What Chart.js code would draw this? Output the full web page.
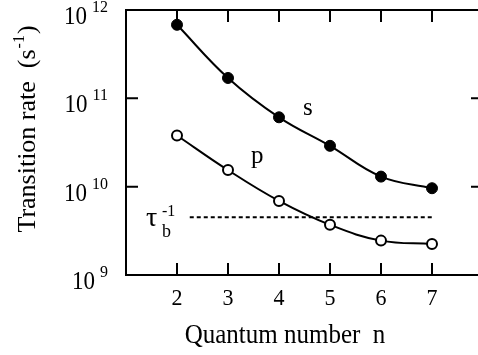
<!DOCTYPE html>
<html><head><meta charset="utf-8">
<script src="https://cdn.jsdelivr.net/npm/chart.js@4/dist/chart.umd.min.js"></script>
<style>
html,body{margin:0;padding:0;background:#fff;overflow:hidden;}
#wrap{width:478px;height:355px;overflow:hidden;position:relative;}
#c{display:block;}
</style></head><body>
<div id="wrap"><canvas id="c" width="490" height="355" style="width:490px;height:355px"></canvas></div>
<script>
const nValues = [2, 3, 4, 5, 6, 7];
const sRates = [6.8e11, 1.7e11, 6.1e10, 2.9e10, 1.3e10, 9.6e9];
const pRates = [3.8e10, 1.54e10, 6.9e9, 3.7e9, 2.45e9, 2.25e9];
const tauLineX = [2.25, 7];
const tauLineY = [4.5e9, 4.5e9];
const xTicks = [2, 3, 4, 5, 6, 7];
const yDecades = [9, 10, 11, 12];

const FONT = '"Liberation Serif", "Times New Roman", serif';
function txt(ctx, s, x, y, size, align, sy) {
  ctx.save();
  ctx.translate(x, y);
  ctx.scale(1, sy || 1);
  ctx.font = size + 'px ' + FONT;
  ctx.textAlign = align || 'left';
  ctx.textBaseline = 'alphabetic';
  ctx.fillStyle = '#000';
  ctx.fillText(s, 0, 0);
  ctx.restore();
}

const decor = {
  id: 'decor',
  afterDraw(chart) {
    const ctx = chart.ctx;
    const a = chart.chartArea;
    const xs = chart.scales.x, ys = chart.scales.y;
    ctx.save();
    ctx.strokeStyle = '#000';
    ctx.lineWidth = 2;
    ctx.beginPath();
    ctx.rect(a.left, a.top, a.right - a.left, a.bottom - a.top);
    ctx.stroke();
    const TL = 12;
    ctx.beginPath();
    xTicks.forEach(v => {
      const px = xs.getPixelForValue(v);
      ctx.moveTo(px, a.bottom); ctx.lineTo(px, a.bottom - TL);
      ctx.moveTo(px, a.top); ctx.lineTo(px, a.top + TL);
    });
    yDecades.forEach(e => {
      const py = ys.getPixelForValue(Math.pow(10, e));
      ctx.moveTo(a.left, py); ctx.lineTo(a.left + TL, py);
      ctx.moveTo(a.right, py); ctx.lineTo(a.right - TL, py);
    });
    ctx.stroke();
    ctx.restore();

    // y tick labels
    yDecades.forEach(e => {
      const py = ys.getPixelForValue(Math.pow(10, e));
      ctx.save();
      ctx.font = '16px ' + FONT;
      const ew = ctx.measureText(String(e)).width;
      ctx.restore();
      const expRight = 108;
      txt(ctx, String(e), expRight, py + 2, 16, 'right', 1.1);
      txt(ctx, '10', expRight - ew - 5, py + 14, 23, 'right', 1.12);
    });
    // x tick labels
    xTicks.forEach(v => {
      const px = xs.getPixelForValue(v);
      txt(ctx, String(v), px, 305, 22, 'center', 1.05);
    });
    // x title
    txt(ctx, 'Quantum number  n', 285, 343, 25, 'center', 1.1);
    // y title rotated
    ctx.save();
    ctx.translate(35, 129);
    ctx.rotate(-Math.PI / 2);
    const p1 = 'Transition rate  (s';
    ctx.font = '26px ' + FONT; const w1 = ctx.measureText(p1).width;
    ctx.font = '16px ' + FONT; const w2 = ctx.measureText('-1').width;
    ctx.font = '26px ' + FONT; const w3 = ctx.measureText(')').width;
    const total = w1 + w2 + 2 + w3;
    let x0 = -total / 2;
    txt(ctx, p1, x0, 0, 26, 'left', 1.0);
    txt(ctx, '-1', x0 + w1 + 1, -11, 16, 'left', 1.0);
    txt(ctx, ')', x0 + w1 + w2 + 2, 0, 26, 'left', 1.0);
    ctx.restore();
    // annotations
    txt(ctx, 's', 303, 115, 25, 'left', 1.05);
    txt(ctx, 'p', 251, 163, 25, 'left', 1.05);
    txt(ctx, 'τ', 146, 226, 28, 'left', 1.0);
    txt(ctx, '-1', 162, 216, 16, 'left', 1.05);
    txt(ctx, 'b', 162, 237, 18, 'left', 1.05);
  }
};

new Chart(document.getElementById('c'), {
  type: 'line',
  data: {
    datasets: [
      {
        label: 's',
        data: nValues.map((n, i) => ({x: n, y: sRates[i]})),
        borderColor: '#000', backgroundColor: '#000', borderWidth: 2,
        pointRadius: 5.5, pointBorderWidth: 1, pointBackgroundColor: '#000', pointBorderColor: '#000',
        tension: 0.4, fill: false
      },
      {
        label: 'p',
        data: nValues.map((n, i) => ({x: n, y: pRates[i]})),
        borderColor: '#000', backgroundColor: '#fff', borderWidth: 2,
        pointRadius: 5, pointBorderWidth: 2, pointBackgroundColor: '#fff', pointBorderColor: '#000',
        tension: 0.4, fill: false
      },
      {
        label: 'tau',
        data: tauLineX.map((x, i) => ({x: x, y: tauLineY[i]})),
        borderColor: '#000', borderWidth: 2, borderDash: [4, 3],
        pointRadius: 0, tension: 0, fill: false
      }
    ]
  },
  options: {
    responsive: false,
    animation: false,
    devicePixelRatio: 1,
    layout: {padding: {top: 10, right: 7, left: 0, bottom: 0}},
    plugins: {legend: {display: false}, tooltip: {enabled: false}},
    scales: {
      x: {
        type: 'linear', min: 1, max: 8,
        grid: {display: false}, border: {display: false},
        ticks: {display: false},
        afterFit: s => { s.height = 80; }
      },
      y: {
        type: 'logarithmic', min: 1e9, max: 1e12,
        grid: {display: false}, border: {display: false},
        ticks: {display: false},
        afterFit: s => { s.width = 126; }
      }
    }
  },
  plugins: [decor]
});
</script>
</body></html>
